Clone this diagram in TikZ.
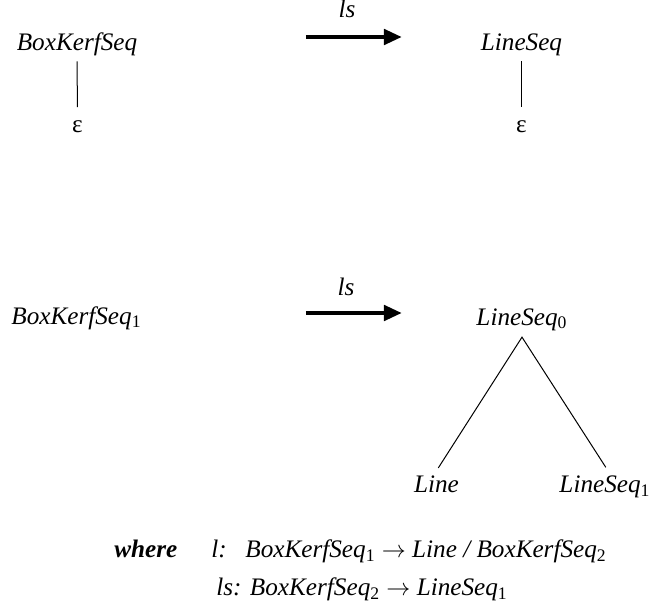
\documentclass[tikz,border=0pt]{standalone}
\usepackage{fontspec}
\setmainfont{Liberation Serif}
\usetikzlibrary{arrows.meta}
\newcommand\lsub[1]{\textsubscript{\upshape#1}}
\begin{document}
\begin{tikzpicture}[x=0.5pt,y=-0.5pt,
  every node/.style={inner sep=0pt,font=\fontsize{12.6pt}{15pt}\selectfont},
  term/.style={font=\fontsize{12.6pt}{15pt}\selectfont\itshape},
  edge/.style={line width=0.5pt},
  bigarrow/.style={line width=2.3pt,-{Triangle[length=9pt,width=7.5pt]}}]
\useasboundingbox (0,0) rectangle (650,605);

% first rule: empty sequences
\node[term,anchor=base] (bks) at (77,50) {BoxKerfSeq};
\node[anchor=base] (e1) at (77.5,133) {ε};
\node[term,anchor=base] (lsq) at (521.5,50) {LineSeq};
\node[anchor=base] (e2) at (521.5,133) {ε};
\draw[edge,shorten <=2.8pt,shorten >=6.8pt] (bks) -- (e1);
\draw[edge,shorten <=2.8pt,shorten >=6.8pt] (lsq) -- (e2);
\coordinate (a1s) at (306,37);
\coordinate (a1e) at (402,37);
\draw[bigarrow] (a1s) -- (a1e);
\node[term,anchor=base] (lab1) at (347,18) {ls};

% second rule: non-empty sequences
\node[term,anchor=base] (bks1) at (76.5,324) {BoxKerfSeq\lsub{1}};
\node[term,anchor=base] (lsq0) at (522,325) {LineSeq\lsub{0}};
\node[term,anchor=base] (line) at (436.5,493) {Line};
\node[term,anchor=base] (lsq1) at (605,493) {LineSeq\lsub{1}};
\coordinate (apex) at ([yshift=-3.2pt]lsq0.south);
\draw[edge] ([xshift=0.9pt,yshift=4pt]line.north) -- (apex)
  -- ([xshift=0.4pt,yshift=4.3pt]lsq1.north);
\coordinate (a2s) at (306,313);
\coordinate (a2e) at (402,313);
\draw[bigarrow] (a2s) -- (a2e);
\node[term,anchor=base] (lab2) at (346,295) {ls};

% definitions of the helper functions
\node[anchor=base west] (wh) at (114,558) {\textbf{\textit{where}}};
\node[term,anchor=base west] (lfun) at (211,558) {l:};
\node[anchor=base west] (ldef) at (245,558) {\textit{BoxKerfSeq}\lsub{1} $\rightarrow$ \textit{Line / BoxKerfSeq}\lsub{2}};
\node[anchor=base west] (lsdef) at (216,596) {\textit{ls: BoxKerfSeq}\lsub{2} $\rightarrow$ \textit{LineSeq}\lsub{1}};
\end{tikzpicture}
\end{document}
